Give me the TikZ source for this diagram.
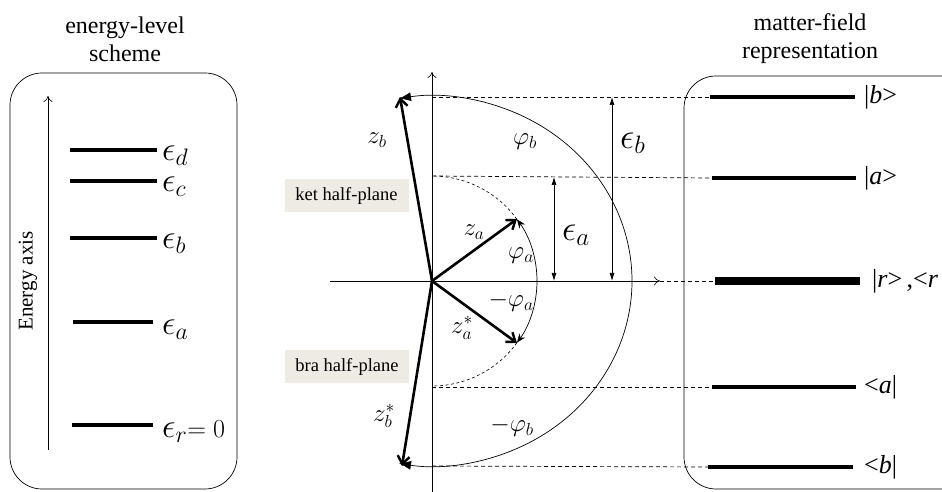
\RequirePackage{fix-cm}
\documentclass[tikz,border=0pt]{standalone}
\usepackage{fontspec}
\setmainfont{Liberation Serif}
\usetikzlibrary{arrows.meta}
\definecolor{planebg}{HTML}{EDEBE3}
\begin{document}
\begin{tikzpicture}[x=1pt,y=1pt,
  panel/.style={draw, line width=0.7pt, rounded corners=32pt},
  level/.style={line width=3.4pt},
  guide/.style={line width=0.7pt, dash pattern=on 4pt off 3pt},
  axis/.style={line width=0.6pt, -{To[length=6pt,width=9pt]}},
  vec/.style={line width=2.6pt, -{Straight Barb[length=8pt,width=12pt,line width=2.4pt]}},
  bigarc/.style={line width=0.7pt, -{Latex[length=12pt,width=9pt]}},
  smallarc/.style={line width=0.7pt, -{Stealth[length=9pt,width=7pt]}},
  dasharc/.style={line width=0.6pt, dash pattern=on 3pt off 2.5pt},
  dimarrow/.style={line width=0.7pt, {Latex[length=8pt,width=5pt]}-{Latex[length=8pt,width=5pt]}},
  title/.style={font=\fontsize{24}{28}\selectfont, align=center},
  elabel/.style={anchor=west, font=\fontsize{34}{36}\selectfont, inner sep=1pt},
  klabel/.style={anchor=west, font=\fontsize{26}{28}\selectfont, inner sep=1pt},
  mlabel/.style={font=\fontsize{25}{28}\selectfont, inner sep=1pt},
  plane/.style={fill=planebg, minimum width=124pt, minimum height=33pt, font=\fontsize{18.5}{22}\selectfont}
]
\useasboundingbox (0,0) rectangle (942,492);

% ---------- left panel ----------
\node[title] (ltitle) at (125,453) {energy-level\\scheme};
\draw[panel] (10,3) rectangle (237,419);
\coordinate (eaxB) at (48,42);
\coordinate (eaxT) at (48,396);
\draw[axis] (eaxB) -- (eaxT);
\node[rotate=90, font=\fontsize{21}{24}\selectfont] (eaxlab) at (28,211) {Energy axis};

\coordinate (dL) at (70,342); \coordinate (dR) at (157,342);
\coordinate (cL) at (70,311); \coordinate (cR) at (157,311);
\coordinate (lbL) at (70,254); \coordinate (lbR) at (157,254);
\coordinate (laL) at (73,170); \coordinate (laR) at (153,170);
\coordinate (lrL) at (72,67); \coordinate (lrR) at (153,67);
\draw[level] (dL) -- (dR);
\draw[level] (cL) -- (cR);
\draw[level] (lbL) -- (lbR);
\draw[level] (laL) -- (laR);
\draw[level] (lrL) -- (lrR);
\node[elabel] (edlab) at (161,336) {$\epsilon_d$};
\node[elabel] (eclab) at (161,305) {$\epsilon_c$};
\node[elabel] (eblab) at (161,248) {$\epsilon_b$};
\node[elabel] (ealab) at (161,162) {$\epsilon_a$};
\node[elabel] (erlab) at (161,60) {$\epsilon_r$\fontsize{26}{28}\selectfont$=0$};

% ---------- centre ----------
\coordinate (O) at (432,211);
\coordinate (vB) at (432,0);
\coordinate (vT) at (432,420);
\coordinate (hL) at (330,211);
\coordinate (hR) at (660,211);
\draw[axis] (vB) -- (vT);
\draw[axis] (hL) -- (hR);

\node[plane] (ket) at (346.5,296) {ket half-plane};
\node[plane] (bra) at (347,125.5) {bra half-plane};

% arcs
\draw[bigarc] (O) ++(200,0) arc[start angle=0, end angle=99.5, x radius=200, y radius=185];
\draw[bigarc] (O) ++(200,0) arc[start angle=0, end angle=-99.5, x radius=200, y radius=185];
\draw[smallarc] (O) ++(105,0) arc[start angle=0, end angle=36, radius=105];
\draw[smallarc] (O) ++(105,0) arc[start angle=0, end angle=-36, radius=105];
\draw[dasharc] (O) ++(36:105) arc[start angle=36, end angle=90, radius=105];
\draw[dasharc] (O) ++(-36:105) arc[start angle=-36, end angle=-90, radius=105];

% vectors
\coordinate (zb) at (400,395);
\coordinate (za) at (517,273);
\coordinate (zas) at (517,149);
\coordinate (zbs) at (402,26);
\draw[vec] (O) -- (zb);
\draw[vec] (O) -- (za);
\draw[vec] (O) -- (zas);
\draw[vec] (O) -- (zbs);

\node[mlabel] (zblab) at (377,352) {$z_b$};
\node[mlabel] (phiblab) at (525,350) {$\varphi_b$};
\node[mlabel] (zalab) at (474,260) {$z_a$};
\node[mlabel] (phialab) at (521,236) {$\varphi_a$};
\node[mlabel] (mphialab) at (511,190) {$-\varphi_a$};
\node[mlabel] (zaslab) at (462,164) {$z_a^*$};
\node[mlabel] (zbslab) at (384,76) {$z_b^*$};
\node[mlabel] (mphiblab) at (512,65) {$-\varphi_b$};

% energy differences
\coordinate (eaT) at (554,315); \coordinate (eaB) at (554,211);
\coordinate (ebT) at (612,395); \coordinate (ebB) at (612,211);
\draw[dimarrow] (eaT) -- (eaB);
\draw[dimarrow] (ebT) -- (ebB);
\node[anchor=west, font=\fontsize{36}{38}\selectfont, inner sep=1pt] (dealab) at (561,257) {$\epsilon_a$};
\node[anchor=west, font=\fontsize{36}{38}\selectfont, inner sep=1pt] (deblab) at (619,349) {$\epsilon_b$};

% ---------- right panel ----------
\node[title] (rtitle) at (810,453) {matter-field\\representation};
\draw[panel] (684,3) rectangle (972,416);

\coordinate (kbL) at (710,395); \coordinate (kbR) at (855,395);
\coordinate (kaL) at (712,314); \coordinate (kaR) at (856,314);
\coordinate (rL) at (715,211);  \coordinate (rR) at (860,211);
\coordinate (baL) at (712,105); \coordinate (baR) at (856,105);
\coordinate (bbL) at (708,25);  \coordinate (bbR) at (853,25);
\draw[level] (kbL) -- (kbR);
\draw[level] (kaL) -- (kaR);
\draw[line width=8pt] (rL) -- (rR);
\draw[level] (baL) -- (baR);
\draw[level] (bbL) -- (bbR);

\node[klabel] (kblab) at (863,395) {|\textit{b}>};
\node[klabel] (kalab) at (863,314) {|\textit{a}>};
\node[klabel] (rlab) at (871,211) {|\textit{r}>\,,<\textit{r}};
\node[klabel] (balab) at (863,105) {<\textit{a}|};
\node[klabel] (bblab) at (863,25) {<\textit{b}|};

% guide lines
\coordinate (gb) at (432,395);
\coordinate (ga) at (432,316);
\coordinate (gma) at (432,105);
\coordinate (gmb) at (432,26);
\draw[guide] (gb) -- (kbL);
\draw[guide] (ga) -- (kaL);
\draw[guide] (hR) -- (rL);
\draw[guide] (gma) -- (baL);
\draw[guide] (gmb) -- (bbL);
\end{tikzpicture}
\end{document}
